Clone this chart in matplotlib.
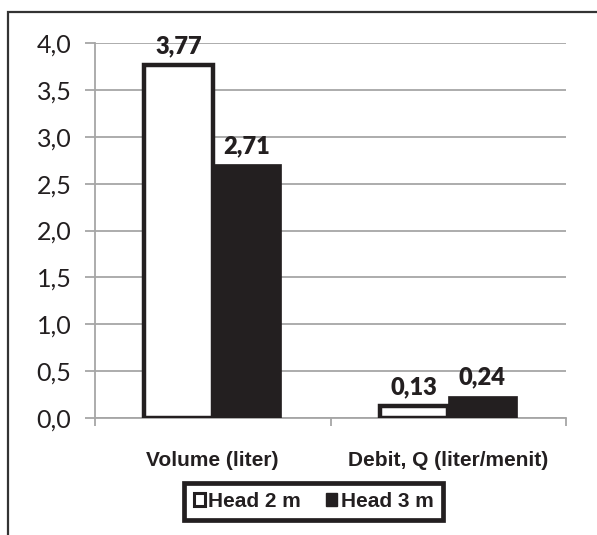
import matplotlib.pyplot as plt
from matplotlib.patches import Patch, Rectangle
from matplotlib.ticker import FuncFormatter, FixedLocator
import numpy as np

categories = ["Volume (liter)", "Debit, Q (liter/menit)"]
series_names = ["Head 2 m", "Head 3 m"]
head_2m = [3.77, 0.13]
head_3m = [2.71, 0.24]

NUM_FONT = ["Lato", "DejaVu Sans"]
TXT_FONT = ["Liberation Sans", "DejaVu Sans"]
DARK = "#231f20"
GRID = "#a6a6a6"


def comma(v, _pos=None, nd=1):
    return f"{v:.{nd}f}".replace(".", ",")


fig = plt.figure(figsize=(5.97, 5.35), dpi=100)
ax = fig.add_axes([95 / 597, 1 - 418 / 535, (566 - 95) / 597, (418 - 43) / 535])

x = np.arange(len(categories))
w = 0.29
b1 = ax.bar(x - w / 2, head_2m, width=w, facecolor="white", edgecolor=DARK,
            linewidth=3.2, zorder=3)
b2 = ax.bar(x + w / 2, head_3m, width=w, facecolor=DARK, edgecolor=DARK,
            linewidth=0.5, zorder=3)

for bars, vals in ((b1, head_2m), (b2, head_3m)):
    for rect, v in zip(bars, vals):
        ax.annotate(comma(v, nd=2), (rect.get_x() + rect.get_width() / 2, v),
                    xytext=(0, 13), textcoords="offset points",
                    ha="center", va="center", fontsize=17, fontweight="heavy",
                    family=NUM_FONT, color=DARK, zorder=4)

ax.set_ylim(0, 4.0)
ax.set_xlim(-0.5, len(categories) - 0.5)
ax.set_yticks(np.arange(0, 4.01, 0.5))
ax.yaxis.set_major_formatter(FuncFormatter(comma))
ax.grid(axis="y", color=GRID, linewidth=1.3, zorder=0)
ax.set_axisbelow(True)

ax.set_xticks(x)
ax.set_xticklabels(categories, fontsize=15, fontweight="bold", family=TXT_FONT,
                   color=DARK)
ax.tick_params(axis="x", length=0, pad=24)
ax.xaxis.set_minor_locator(FixedLocator(np.arange(-0.5, len(categories), 1.0)))
ax.tick_params(axis="x", which="minor", length=6, width=1.3, color=GRID,
               direction="out")
ax.tick_params(axis="y", length=7, width=1.3, color=GRID, pad=10,
               labelsize=18, labelcolor=DARK)
for lbl in ax.get_yticklabels():
    lbl.set_family(NUM_FONT)

for side in ("top", "right"):
    ax.spines[side].set_visible(False)
for side in ("left", "bottom"):
    ax.spines[side].set_color(GRID)
    ax.spines[side].set_linewidth(1.3)

handles = [
    Patch(facecolor="white", edgecolor=DARK, linewidth=2.2),
    Patch(facecolor=DARK, edgecolor=DARK),
]
leg = fig.legend(handles, series_names, loc="center", ncol=2,
                 bbox_to_anchor=(313.5 / 597, 1 - 501.5 / 535),
                 prop={"family": TXT_FONT, "weight": "bold", "size": 15},
                 handlelength=0.55, handleheight=0.55, handletextpad=0.15,
                 columnspacing=1.2, borderpad=0.45, fancybox=False,
                 framealpha=1.0)
leg.get_frame().set_edgecolor(DARK)
leg.get_frame().set_linewidth(3.4)
for t in leg.get_texts():
    t.set_color(DARK)

# outer chart frame, cut off at the right and bottom
fig.patches.append(Rectangle((8 / 597, -0.1), 1.2, 1 - 12 / 535 + 0.1,
                             transform=fig.transFigure, fill=False,
                             edgecolor="#333333", linewidth=1.6))

fig.savefig("out.png", dpi=100)
